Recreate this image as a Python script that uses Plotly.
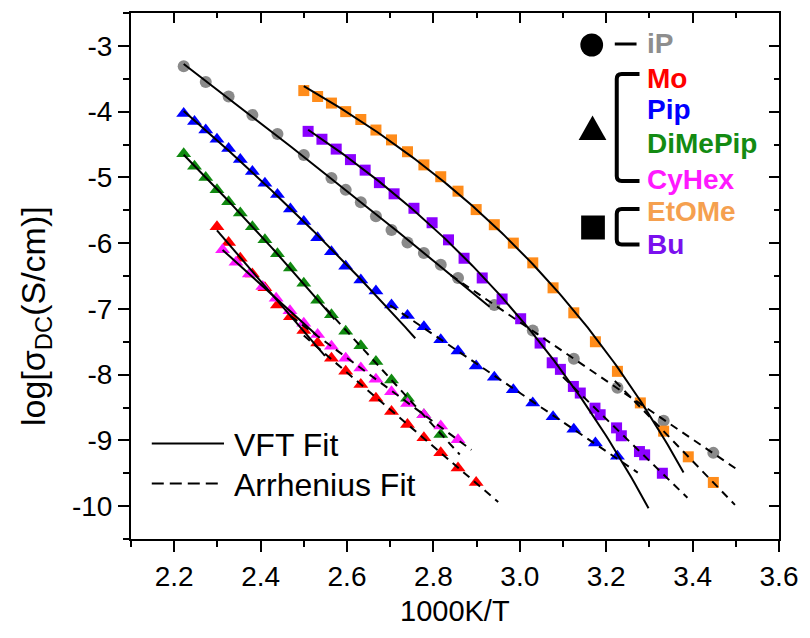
import numpy as np
import plotly.graph_objects as go

# ---------------- data ----------------
iP_x = [2.222, 2.273, 2.326, 2.381, 2.439, 2.500, 2.564, 2.597, 2.632, 2.667, 2.703,
        2.740, 2.778, 2.817, 2.857, 2.941, 3.030, 3.125, 3.226, 3.333, 3.448]
iP_y = [-3.31, -3.55, -3.77, -4.05, -4.34, -4.66, -5.01, -5.19, -5.38, -5.59, -5.80,
        -5.99, -6.15, -6.33, -6.53, -6.94, -7.33, -7.76, -8.20, -8.70, -9.19]

Mo_x = [2.299, 2.326, 2.353, 2.381, 2.410, 2.439, 2.469, 2.500, 2.532, 2.564, 2.597,
        2.632, 2.667, 2.703, 2.740, 2.778, 2.817, 2.857, 2.899]
Mo_y = [-5.75, -5.99, -6.23, -6.47, -6.68, -6.94, -7.12, -7.33, -7.52, -7.75, -7.95,
        -8.15, -8.36, -8.56, -8.76, -8.96, -9.19, -9.42, -9.64]

Pip_x = [2.222, 2.247, 2.273, 2.299, 2.326, 2.353, 2.381, 2.410, 2.439, 2.469, 2.500,
         2.532, 2.564, 2.597, 2.632, 2.667, 2.703, 2.740, 2.778, 2.817, 2.857, 2.899,
         2.941, 2.985, 3.030, 3.077, 3.125, 3.175, 3.226]
Pip_y = [-4.03, -4.15, -4.28, -4.42, -4.56, -4.73, -4.91, -5.09, -5.26, -5.48, -5.67,
         -5.92, -6.13, -6.35, -6.56, -6.73, -6.94, -7.10, -7.27, -7.47, -7.64, -7.87,
         -8.04, -8.23, -8.43, -8.64, -8.83, -9.04, -9.24]

DiMePip_x = [2.222, 2.247, 2.273, 2.299, 2.326, 2.353, 2.381, 2.410, 2.439, 2.469,
             2.500, 2.532, 2.564, 2.597, 2.632, 2.667, 2.703, 2.740, 2.778, 2.817]
DiMePip_y = [-4.64, -4.83, -5.00, -5.19, -5.37, -5.54, -5.75, -5.95, -6.16, -6.38,
             -6.61, -6.87, -7.09, -7.34, -7.56, -7.80, -8.08, -8.36, -8.61, -8.91]

CyHex_x = [2.312, 2.343, 2.374, 2.405, 2.436, 2.468, 2.500, 2.532, 2.564, 2.597,
           2.632, 2.667, 2.703, 2.740, 2.778, 2.817, 2.857]
CyHex_y = [-6.10, -6.29, -6.47, -6.66, -6.84, -7.03, -7.22, -7.39, -7.57, -7.75,
           -7.90, -8.07, -8.26, -8.44, -8.61, -8.78, -8.99]

EtOMe_x = [2.500, 2.532, 2.564, 2.597, 2.632, 2.667, 2.703, 2.740, 2.778, 2.817,
           2.857, 2.899, 2.941, 2.985, 3.030, 3.077, 3.125, 3.175, 3.226, 3.279,
           3.333, 3.390, 3.448]
EtOMe_y = [-3.68, -3.77, -3.87, -4.00, -4.12, -4.28, -4.43, -4.61, -4.81, -4.99,
           -5.21, -5.49, -5.72, -6.00, -6.30, -6.68, -7.06, -7.50, -7.95, -8.43,
           -8.86, -9.25, -9.64]

Bu_x = [2.510, 2.542, 2.575, 2.608, 2.642, 2.675, 2.709, 2.755, 2.797, 2.835, 2.871,
        2.913, 2.959, 3.002, 3.047, 3.075, 3.094, 3.124, 3.140, 3.174, 3.186, 3.224,
        3.235, 3.277, 3.289, 3.330]
Bu_y = [-4.30, -4.42, -4.57, -4.73, -4.89, -5.08, -5.25, -5.47, -5.69, -5.95, -6.23,
        -6.53, -6.85, -7.15, -7.52, -7.82, -7.92, -8.18, -8.28, -8.51, -8.61, -8.81,
        -8.93, -9.17, -9.22, -9.50]

# fit windows: [last x used for VFT fit, VFT curve start, VFT curve end,
#               first x used for Arrhenius fit, Arr line start, Arr line end]
iP_fit = [2.86, 2.222, 2.93, 2.94, 2.84, 3.50]
Mo_fit = [2.533, 2.299, 2.549, 2.563, 2.50, 2.95]
Pip_fit = [2.668, 2.222, 2.758, 2.70, 2.70, 3.273]
DiMePip_fit = [2.533, 2.222, 2.571, 2.563, 2.55, 2.861]
CyHex_fit = [2.501, 2.312, 2.53, 2.531, 2.47, 2.888]
EtOMe_fit = [3.34, 2.500, 3.379, 3.332, 3.22, 3.498]
Bu_fit = [3.145, 2.510, 3.298, 3.12, 3.10, 3.388]

x_ticks = [2.2, 2.4, 2.6, 2.8, 3.0, 3.2, 3.4, 3.6]
x_ticktext = ["2.2", "2.4", "2.6", "2.8", "3.0", "3.2", "3.4", "3.6"]
y_ticks = [-10, -9, -8, -7, -6, -5, -4, -3]
y_ticktext = ["-10", "-9", "-8", "-7", "-6", "-5", "-4", "-3"]

names = ["iP", "Mo", "Pip", "DiMePip", "CyHex", "EtOMe", "Bu"]

# ---------------- styles ----------------
FONT = "Liberation Sans, Arial, sans-serif"
series = [
    dict(name="iP", x=iP_x, y=iP_y, fit=iP_fit, color="#8A8A8A", text="#8E8E8E", symbol="circle", size=12),
    dict(name="Mo", x=Mo_x, y=Mo_y, fit=Mo_fit, color="#FF0000", text="#FF0000", symbol="triangle-up", size=13),
    dict(name="Pip", x=Pip_x, y=Pip_y, fit=Pip_fit, color="#0000FF", text="#0000FF", symbol="triangle-up", size=13),
    dict(name="DiMePip", x=DiMePip_x, y=DiMePip_y, fit=DiMePip_fit, color="#118A11", text="#138B13", symbol="triangle-up", size=13),
    dict(name="CyHex", x=CyHex_x, y=CyHex_y, fit=CyHex_fit, color="#FF1AFF", text="#FF19FF", symbol="triangle-up", size=13),
    dict(name="EtOMe", x=EtOMe_x, y=EtOMe_y, fit=EtOMe_fit, color="#FF8C1A", text="#F5A04F", symbol="square", size=11),
    dict(name="Bu", x=Bu_x, y=Bu_y, fit=Bu_fit, color="#8B00FF", text="#7A10EE", symbol="square", size=11),
]


def fit_vft(x, y, x_end, margin=6.0):
    x = np.asarray(x, float)
    y = np.asarray(y, float)
    T = 1000.0 / x
    t_lim = 1000.0 / x_end - margin
    best = None
    for T0 in np.arange(0.0, t_lim, 0.25):
        f = 1.0 / (T - T0)
        M = np.column_stack([np.ones_like(f), f])
        coef = np.linalg.lstsq(M, y, rcond=None)[0]
        r = float(np.sum((M @ coef - y) ** 2))
        if best is None or r < best[0]:
            best = (r, T0, coef)
    _, T0, coef = best
    return lambda xx: coef[0] + coef[1] / (1000.0 / np.asarray(xx) - T0)


fig = go.Figure()

# markers
for s in series:
    fig.add_trace(go.Scatter(
        x=s["x"], y=s["y"], mode="markers", name=s["name"], showlegend=False,
        marker=dict(symbol=s["symbol"], size=s["size"], color=s["color"], line=dict(width=0)),
    ))

# fits (drawn on top of the markers)
for s in series:
    x = np.asarray(s["x"], float)
    y = np.asarray(s["y"], float)
    vmax, v0, v1, amin, a0, a1 = s["fit"]
    m = x <= vmax
    f = fit_vft(x[m], y[m], v1)
    xv = np.linspace(v0, v1, 120)
    fig.add_trace(go.Scatter(x=xv, y=f(xv), mode="lines", showlegend=False, hoverinfo="skip",
                             line=dict(color="black", width=2)))
    m2 = x >= amin
    p = np.polyfit(x[m2], y[m2], 1)
    xa = np.array([a0, a1])
    fig.add_trace(go.Scatter(x=xa, y=np.polyval(p, xa), mode="lines", showlegend=False, hoverinfo="skip",
                             line=dict(color="black", width=2, dash="8px,6px")))

# helper trace for the mirrored (top/right) axes
fig.add_trace(go.Scatter(x=[], y=[], xaxis="x2", yaxis="y2", showlegend=False, hoverinfo="skip"))

# ---------------- layout ----------------
L, R, T, B = 131, 786, 13, 539
W, H = R - L, B - T


def xp(px):
    return (px - L) / W


def yp(py):
    return (B - py) / H


shapes = []
annotations = []

# symbol legend (top right)
shapes.append(dict(type="circle", xref="paper", yref="paper", x0=xp(585.2), x1=xp(608.2),
                   y0=yp(56.5), y1=yp(33.5), fillcolor="black", line=dict(width=0)))
shapes.append(dict(type="line", xref="paper", yref="paper", x0=xp(620), x1=xp(642),
                   y0=yp(44), y1=yp(44), line=dict(color="black", width=3)))
shapes.append(dict(type="path", xref="paper", yref="paper",
                   path=f"M {xp(583.5)},{yp(140)} L {xp(611.5)},{yp(140)} L {xp(597.5)},{yp(115.5)} Z",
                   fillcolor="black", line=dict(width=0)))
shapes.append(dict(type="rect", xref="paper", yref="paper", x0=xp(586), x1=xp(610),
                   y0=yp(239.5), y1=yp(215.5), fillcolor="black", line=dict(width=0)))


def bracket(y_top, y_bot, xv=622, xa=645, rr=5):
    return (f"M {xp(xa)},{yp(y_top)} L {xp(xv + rr)},{yp(y_top)} "
            f"Q {xp(xv)},{yp(y_top)} {xp(xv)},{yp(y_top + rr)} "
            f"L {xp(xv)},{yp(y_bot - rr)} Q {xp(xv)},{yp(y_bot)} {xp(xv + rr)},{yp(y_bot)} "
            f"L {xp(xa)},{yp(y_bot)}")


shapes.append(dict(type="path", xref="paper", yref="paper", path=bracket(74, 181),
                   line=dict(color="black", width=4)))
shapes.append(dict(type="path", xref="paper", yref="paper", path=bracket(209, 244.5),
                   line=dict(color="black", width=4)))

label_y = [43, 78, 110, 144, 179, 212, 244]
for s, ly in zip(series, label_y):
    annotations.append(dict(xref="paper", yref="paper", x=xp(651), y=yp(ly), xanchor="left",
                            yanchor="middle", showarrow=False, text=f"<b>{s['name']}</b>",
                            font=dict(family=FONT, size=28, color=s["text"])))

# line-style legend (bottom left)
shapes.append(dict(type="line", xref="paper", yref="paper", x0=xp(152), x1=xp(225),
                   y0=yp(443.5), y1=yp(443.5), line=dict(color="black", width=2)))
shapes.append(dict(type="line", xref="paper", yref="paper", x0=xp(152), x1=xp(219),
                   y0=yp(483.5), y1=yp(483.5), line=dict(color="black", width=2, dash="12px,6px")))
annotations.append(dict(xref="paper", yref="paper", x=xp(233), y=yp(445), xanchor="left", yanchor="middle",
                        showarrow=False, text="VFT Fit", font=dict(family=FONT, size=32, color="black")))
annotations.append(dict(xref="paper", yref="paper", x=xp(233), y=yp(485), xanchor="left", yanchor="middle",
                        showarrow=False, text="Arrhenius Fit", font=dict(family=FONT, size=32, color="black")))

# axis titles
annotations.append(dict(xref="paper", yref="paper", x=xp(458), y=yp(611), xanchor="center", yanchor="middle",
                        showarrow=False, text="1000K/T", font=dict(family=FONT, size=29, color="black")))
annotations.append(dict(xref="paper", yref="paper", x=xp(34), y=yp(316), xanchor="center", yanchor="middle",
                        showarrow=False, textangle=-90, text="log[σ<sub>DC</sub>(S/cm)]",
                        font=dict(family=FONT, size=34, color="black")))

axis_common = dict(showgrid=False, zeroline=False, showline=True, linecolor="black", linewidth=2,
                   tickcolor="black", tickwidth=2)

fig.update_layout(
    width=810, height=638,
    margin=dict(l=L, r=810 - R, t=T, b=638 - B),
    plot_bgcolor="white", paper_bgcolor="white",
    shapes=shapes, annotations=annotations,
    xaxis=dict(range=[2.1, 3.6], tickmode="array", tickvals=x_ticks, ticktext=x_ticktext,
               ticks="outside", ticklen=11,
               tickfont=dict(family=FONT, size=28, color="black"),
               minor=dict(tickmode="linear", tick0=2.1, dtick=0.1, ticks="outside", ticklen=6,
                          tickwidth=2, tickcolor="black"),
               **axis_common),
    yaxis=dict(range=[-10.5, -2.5], tickmode="array", tickvals=y_ticks, ticktext=y_ticktext,
               ticks="outside", ticklen=11,
               tickfont=dict(family=FONT, size=28, color="black"),
               minor=dict(tickmode="linear", tick0=-10.5, dtick=0.5, ticks="outside", ticklen=6,
                          tickwidth=2, tickcolor="black"),
               **axis_common),
    xaxis2=dict(range=[2.1, 3.6], overlaying="x", side="top", anchor="y", tickmode="array",
                tickvals=x_ticks, showticklabels=False, ticks="inside", ticklen=10,
                minor=dict(tickmode="linear", tick0=2.1, dtick=0.1, ticks="inside", ticklen=5,
                           tickwidth=2, tickcolor="black"),
                **axis_common),
    yaxis2=dict(range=[-10.5, -2.5], overlaying="y", side="right", anchor="x", tickmode="array",
                tickvals=y_ticks, showticklabels=False, ticks="inside", ticklen=10,
                minor=dict(tickmode="linear", tick0=-10.5, dtick=0.5, ticks="inside", ticklen=5,
                           tickwidth=2, tickcolor="black"),
                **axis_common),
)

fig.write_html("out.html")
